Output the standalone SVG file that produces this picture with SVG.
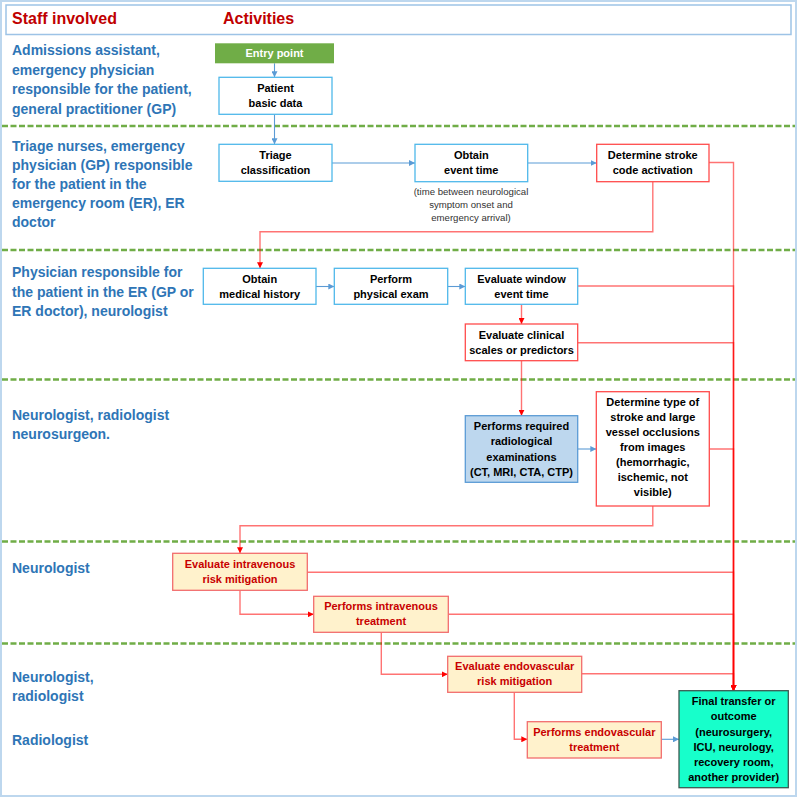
<svg xmlns="http://www.w3.org/2000/svg" width="798" height="797" viewBox="0 0 798 797">
<defs>
<style>
.lane{font-family:"Liberation Sans",Arial,sans-serif;font-weight:bold;font-size:14px;fill:#2E75B6}
.hdr{font-family:"Liberation Sans",Arial,sans-serif;font-weight:bold;font-size:16px;fill:#C00000}
.t{font-family:"Liberation Sans",Arial,sans-serif;font-weight:bold;font-size:11px;fill:#000;text-anchor:middle}
.tr{font-family:"Liberation Sans",Arial,sans-serif;font-weight:bold;font-size:11px;fill:#C80000;text-anchor:middle}
.tw{font-family:"Liberation Sans",Arial,sans-serif;font-weight:bold;font-size:11px;fill:#fff;text-anchor:middle}
.note{font-family:"Liberation Sans",Arial,sans-serif;font-size:9.6px;fill:#333;text-anchor:middle}
.bx{fill:#fff;stroke:#4FB8EA;stroke-width:1.3}
.rx{fill:#fff;stroke:#FF4C4C;stroke-width:1.3}
.ox{fill:#FFF2CC;stroke:#F26D6D;stroke-width:1.3}
.sep{stroke:#70AD47;stroke-width:2.5;stroke-dasharray:6 2.5;fill:none}
.cb{fill:none;stroke:#5B9BD5;stroke-width:1.1;marker-end:url(#ab)}
.cr{fill:none;stroke:#FF0000;stroke-opacity:0.55;stroke-width:1.4;marker-end:url(#ar)}
</style>
<marker id="ab" markerUnits="userSpaceOnUse" markerWidth="7" markerHeight="6" refX="6" refY="3" orient="auto">
<path d="M0,0 L6,3 L0,6 z" fill="#5B9BD5"/>
</marker>
<marker id="ar" markerUnits="userSpaceOnUse" markerWidth="7" markerHeight="6" refX="6" refY="3" orient="auto">
<path d="M0,0 L6,3 L0,6 z" fill="#FF0000"/>
</marker>
</defs>
<rect x="0" y="0" width="798" height="797" fill="#fff"/>
<rect x="1" y="1" width="795" height="795" fill="none" stroke="#BDD7EE" stroke-width="2"/>
<rect x="6" y="5" width="785" height="29.5" fill="none" stroke="#9DC3E6" stroke-width="1.5"/>
<text class="hdr" x="12" y="23.5">Staff involved</text>
<text class="hdr" x="223" y="23.5">Activities</text>

<g id="separators">
<line class="sep" x1="2" y1="126" x2="795" y2="126"/>
<line class="sep" x1="2" y1="250" x2="795" y2="250"/>
<line class="sep" x1="2" y1="379.5" x2="795" y2="379.5"/>
<line class="sep" x1="2" y1="541.5" x2="795" y2="541.5"/>
<line class="sep" x1="2" y1="643.5" x2="795" y2="643.5"/>
</g>

<g id="lanes">
<text class="lane" x="12" y="55">Admissions assistant,</text>
<text class="lane" x="12" y="74.5">emergency physician</text>
<text class="lane" x="12" y="94">responsible for the patient,</text>
<text class="lane" x="12" y="113.5">general practitioner (GP)</text>
<text class="lane" x="12" y="150.7">Triage nurses, emergency</text>
<text class="lane" x="12" y="169.8">physician (GP) responsible</text>
<text class="lane" x="12" y="188.9">for the patient in the</text>
<text class="lane" x="12" y="208">emergency room (ER), ER</text>
<text class="lane" x="12" y="227.1">doctor</text>
<text class="lane" x="12" y="277.3">Physician responsible for</text>
<text class="lane" x="12" y="296.7">the patient in the ER (GP or</text>
<text class="lane" x="12" y="316">ER doctor), neurologist</text>
<text class="lane" x="12" y="420">Neurologist, radiologist</text>
<text class="lane" x="12" y="439.3">neurosurgeon.</text>
<text class="lane" x="12" y="572.5">Neurologist</text>
<text class="lane" x="12" y="682">Neurologist,</text>
<text class="lane" x="12" y="700.7">radiologist</text>
<text class="lane" x="12" y="744.5">Radiologist</text>
</g>

<g id="connectors">
<path class="cb" d="M274.5,63.3 V77.3"/>
<path class="cb" d="M274.5,114.3 V144.3"/>
<path class="cb" d="M332,163 H415"/>
<path class="cb" d="M527.7,163 H596.7"/>
<path class="cb" d="M316,286.5 H334.3"/>
<path class="cb" d="M447.7,286.5 H465.3"/>
<path class="cb" d="M577.7,449 H596.3"/>
<path class="cb" d="M661.3,739.3 H679"/>
<path class="cr" d="M652.8,181.7 V231.7 H260 V268.3"/>
<path class="cr" d="M521.5,304.3 V324"/>
<path class="cr" d="M521.5,360.7 V415.7"/>
<path class="cr" d="M652.8,506 V525.7 H240 V553.3"/>
<path class="cr" d="M240,590.3 V614.3 H313.7"/>
<path class="cr" d="M381.3,632.3 V674.3 H447.7"/>
<path class="cr" d="M514.3,692.3 V739.3 H527.3"/>
<path class="cr" d="M709,162.5 H733.5 V690.7"/>
<path class="cr" d="M577.7,286 H733.5 V690.7"/>
<path class="cr" d="M577.7,342.7 H733.5 V690.7"/>
<path class="cr" d="M709.3,449 H733.5 V690.7"/>
<path class="cr" d="M307.3,572.3 H733.5 V690.7"/>
<path class="cr" d="M448.3,614.3 H733.5 V690.7"/>
<path class="cr" d="M581.7,673.7 H733.5 V690.7"/>
</g>

<g id="entry">
<rect x="215" y="43.3" width="119" height="20" fill="#70AD47"/>
<text class="tw" x="274.5" y="57">Entry point</text>
</g>
<g id="patient">
<rect class="bx" x="219" y="77.3" width="113" height="37"/>
<text class="t" x="275.5" y="92">Patient</text>
<text class="t" x="275.5" y="107">basic data</text>
</g>
<g id="triage">
<rect class="bx" x="219" y="144.3" width="113" height="37"/>
<text class="t" x="275.5" y="159.3">Triage</text>
<text class="t" x="275.5" y="174.3">classification</text>
</g>
<g id="obtain-event">
<rect class="bx" x="415" y="144.3" width="112.7" height="37.4"/>
<text class="t" x="471.3" y="159.3">Obtain</text>
<text class="t" x="471.3" y="174.3">event time</text>
<text class="note" x="471" y="194.5">(time between neurological</text>
<text class="note" x="471" y="207.5">symptom onset and</text>
<text class="note" x="471" y="220.5">emergency arrival)</text>
</g>
<g id="stroke-code">
<rect class="rx" x="596.7" y="144.3" width="112.3" height="37.4"/>
<text class="t" x="652.8" y="159.3">Determine stroke</text>
<text class="t" x="652.8" y="174.3">code activation</text>
</g>
<g id="history">
<rect class="bx" x="203.3" y="268.3" width="112.7" height="36"/>
<text class="t" x="259.7" y="282.7">Obtain</text>
<text class="t" x="259.7" y="297.7">medical history</text>
</g>
<g id="exam">
<rect class="bx" x="334.3" y="268.3" width="113.4" height="36"/>
<text class="t" x="391" y="282.7">Perform</text>
<text class="t" x="391" y="297.7">physical exam</text>
</g>
<g id="window">
<rect class="bx" x="465.3" y="268.3" width="112.4" height="36"/>
<text class="t" x="521.5" y="282.7">Evaluate window</text>
<text class="t" x="521.5" y="297.7">event time</text>
</g>
<g id="scales">
<rect class="rx" x="465.3" y="324" width="112.4" height="36.7"/>
<text class="t" x="521.5" y="339">Evaluate clinical</text>
<text class="t" x="521.5" y="354">scales or predictors</text>
</g>
<g id="radiology">
<rect x="465.3" y="415.7" width="112.4" height="66.6" fill="#BDD7EE" stroke="#5B9BD5" stroke-width="1.3"/>
<text class="t" x="521.5" y="430">Performs required</text>
<text class="t" x="521.5" y="445.3">radiological</text>
<text class="t" x="521.5" y="460.7">examinations</text>
<text class="t" x="521.5" y="476">(CT, MRI, CTA, CTP)</text>
</g>
<g id="stroke-type">
<rect class="rx" x="596.3" y="391.7" width="113" height="114.3"/>
<text class="t" x="652.8" y="405.7">Determine type of</text>
<text class="t" x="652.8" y="420.7">stroke and large</text>
<text class="t" x="652.8" y="436">vessel occlusions</text>
<text class="t" x="652.8" y="451">from images</text>
<text class="t" x="652.8" y="466.3">(hemorrhagic,</text>
<text class="t" x="652.8" y="481.3">ischemic, not</text>
<text class="t" x="652.8" y="496.3">visible)</text>
</g>
<g id="iv-risk">
<rect class="ox" x="172.7" y="553.3" width="134.6" height="37"/>
<text class="tr" x="240" y="568.3">Evaluate intravenous</text>
<text class="tr" x="240" y="583.3">risk mitigation</text>
</g>
<g id="iv-treat">
<rect class="ox" x="313.7" y="596.3" width="134.6" height="36"/>
<text class="tr" x="381" y="610.3">Performs intravenous</text>
<text class="tr" x="381" y="625.3">treatment</text>
</g>
<g id="ev-risk">
<rect class="ox" x="447.7" y="656.3" width="134" height="36"/>
<text class="tr" x="514.7" y="670">Evaluate endovascular</text>
<text class="tr" x="514.7" y="685">risk mitigation</text>
</g>
<g id="ev-treat">
<rect class="ox" x="527.3" y="721.7" width="134" height="36.3"/>
<text class="tr" x="594.3" y="735.7">Performs endovascular</text>
<text class="tr" x="594.3" y="751">treatment</text>
</g>
<g id="final">
<rect x="679" y="690.7" width="109.3" height="97" fill="#17FFCB" stroke="#3B5A52" stroke-width="1.3"/>
<text class="t" x="733.7" y="705">Final transfer or</text>
<text class="t" x="733.7" y="720">outcome</text>
<text class="t" x="733.7" y="735.7">(neurosurgery,</text>
<text class="t" x="733.7" y="751">ICU, neurology,</text>
<text class="t" x="733.7" y="766">recovery room,</text>
<text class="t" x="733.7" y="781">another provider)</text>
</g>
</svg>
